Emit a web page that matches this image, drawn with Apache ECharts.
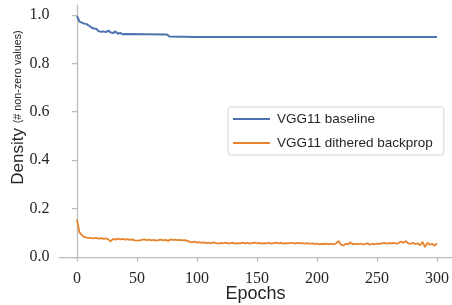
<!DOCTYPE html>
<html>
<head>
<meta charset="utf-8">
<script src="https://cdn.jsdelivr.net/npm/echarts@6/dist/echarts.min.js"></script>
<style>
  html, body { margin: 0; padding: 0; background: #fff; }
  #chart { width: 452px; height: 305px; }
</style>
</head>
<body>
<div id="chart"></div>
<script>
// baseline：稀疏的拐点
const baselineEpochs = [0, 1, 2, 4, 6, 8, 10, 12, 14, 16, 18, 20, 22, 24, 26, 28, 30, 32, 34, 36, 38, 40, 75, 77, 100, 300]
const baselineDensity = [0.995, 0.985, 0.972, 0.968, 0.964, 0.962, 0.955, 0.948, 0.944, 0.943, 0.933, 0.930, 0.932, 0.929,
  0.935, 0.928, 0.925, 0.932, 0.922, 0.926, 0.920, 0.921, 0.919, 0.911, 0.909, 0.909]

// dithered backprop：每 2 个 epoch 一个点 (0, 2, ..., 300)
const ditheredStep = 2
const ditheredDensity = [
  0.155, 0.102, 0.090, 0.082, 0.079, 0.078, 0.077, 0.076, 0.078, 0.075,
  0.077, 0.074, 0.076, 0.072, 0.064, 0.074, 0.071, 0.075, 0.072, 0.074,
  0.071, 0.073, 0.070, 0.072, 0.068, 0.067, 0.068, 0.070, 0.072, 0.069,
  0.071, 0.068, 0.070, 0.067, 0.069, 0.071, 0.068, 0.070, 0.066, 0.072,
  0.070, 0.071, 0.069, 0.070, 0.068, 0.069, 0.066, 0.062, 0.060, 0.063,
  0.059, 0.061, 0.058, 0.060, 0.057, 0.059, 0.056, 0.060, 0.057, 0.055,
  0.058, 0.056, 0.059, 0.055, 0.057, 0.058, 0.055, 0.057, 0.056, 0.059,
  0.056, 0.058, 0.055, 0.057, 0.059, 0.056, 0.058, 0.055, 0.057, 0.056,
  0.058, 0.054, 0.057, 0.059, 0.056, 0.058, 0.055, 0.057, 0.056, 0.058,
  0.057, 0.055, 0.058, 0.056, 0.057, 0.055, 0.057, 0.054, 0.056, 0.053,
  0.055, 0.052, 0.054, 0.053, 0.055, 0.052, 0.054, 0.051, 0.056, 0.066,
  0.050, 0.047, 0.054, 0.052, 0.060, 0.051, 0.054, 0.052, 0.055, 0.051,
  0.053, 0.056, 0.050, 0.054, 0.052, 0.055, 0.053, 0.056, 0.058, 0.055,
  0.057, 0.056, 0.058, 0.054, 0.057, 0.063, 0.058, 0.065, 0.056, 0.054,
  0.058, 0.052, 0.056, 0.048, 0.062, 0.040, 0.058, 0.050, 0.054, 0.046,
  0.056
]

const xTicks = [0, 50, 100, 150, 200, 250, 300]
const yTicks = [0, 0.2, 0.4, 0.6, 0.8, 1.0]

const colors = {
  blue: '#4c72b0',
  orange: '#e8842e',
  spine: '#bcbcbc',
  text: '#262626'
}

const baselineData = baselineEpochs.map((e, i) => [e, baselineDensity[i]])
const ditheredData = ditheredDensity.map((v, i) => [i * ditheredStep, v])

const chart = echarts.init(document.getElementById('chart'), null, { renderer: 'canvas' })

const serifFont = '"Liberation Serif", "DejaVu Serif", serif'
const sansFont = '"Liberation Sans", Arial, sans-serif'

chart.setOption({
  animation: false,
  backgroundColor: '#ffffff',
  grid: { left: 59, right: 0, top: 5, bottom: 46, outerBoundsMode: 'none' },
  legend: {
    orient: 'vertical',
    left: 228,
    top: 107,
    icon: 'rect',
    itemWidth: 37,
    itemHeight: 2,
    itemGap: 10,
    padding: [5, 11, 5, 5],
    borderColor: '#d6d6d6',
    borderWidth: 1,
    borderRadius: 3,
    textStyle: { fontFamily: sansFont, fontSize: 13.5, color: colors.text, padding: [0, 0, 0, 2] },
    data: ['VGG11 baseline', 'VGG11 dithered backprop']
  },
  xAxis: {
    type: 'value',
    min: -15,
    max: 312.5,
    name: 'Epochs',
    nameLocation: 'middle',
    nameGap: 26,
    nameMoveOverlap: false,
    nameTextStyle: { fontFamily: sansFont, fontSize: 18, color: colors.text },
    axisLine: { show: true, lineStyle: { color: colors.spine, width: 1.25 } },
    axisTick: { show: true, length: 5, lineStyle: { color: colors.spine, width: 1.25 }, customValues: xTicks },
    axisLabel: { margin: 12, fontFamily: serifFont, fontSize: 16, color: colors.text, customValues: xTicks },
    splitLine: { show: false }
  },
  yAxis: {
    type: 'value',
    min: -0.009,
    max: 1.041,
    name: '{a|Density }{b|(# non-zero values)}',
    nameLocation: 'middle',
    nameRotate: 90,
    nameGap: 32,
    nameMoveOverlap: false,
    nameTextStyle: {
      padding: [0, 0, 0, 49],
      rich: {
        a: { fontFamily: sansFont, fontSize: 17, color: colors.text },
        b: { fontFamily: sansFont, fontSize: 10.8, color: colors.text }
      }
    },
    axisLine: { show: true, lineStyle: { color: colors.spine, width: 1.25 } },
    axisTick: { show: true, length: 5, lineStyle: { color: colors.spine, width: 1.25 }, customValues: yTicks },
    axisLabel: {
      margin: 9.5,
      fontFamily: serifFont,
      fontSize: 16,
      color: colors.text,
      customValues: yTicks,
      formatter: v => v.toFixed(1)
    },
    splitLine: { show: false }
  },
  series: [
    {
      name: 'VGG11 baseline',
      type: 'line',
      data: baselineData,
      showSymbol: false,
      lineStyle: { color: colors.blue, width: 2 },
      itemStyle: { color: colors.blue }
    },
    {
      name: 'VGG11 dithered backprop',
      type: 'line',
      data: ditheredData,
      showSymbol: false,
      lineStyle: { color: colors.orange, width: 1.8 },
      itemStyle: { color: colors.orange }
    }
  ]
})
</script>
</body>
</html>
